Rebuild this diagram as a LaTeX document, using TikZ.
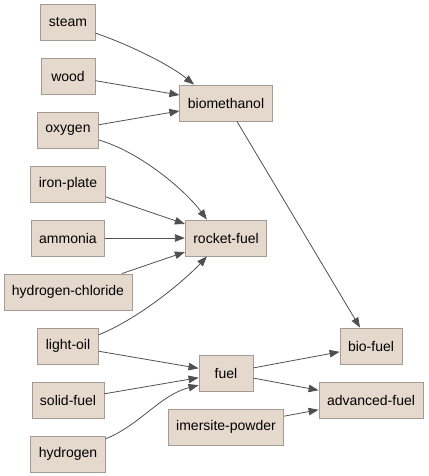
\documentclass[tikz,border=0pt]{standalone}
\usepackage{fontspec}
\setmainfont{Liberation Sans}
\usetikzlibrary{arrows.meta}
\definecolor{boxfill}{RGB}{229,217,205}
\definecolor{boxline}{RGB}{165,155,148}
\definecolor{edgeline}{RGB}{80,80,80}
\begin{document}
\begin{tikzpicture}[
    x=1pt, y=-1pt,
    font=\fontsize{14}{16}\selectfont,
    item/.style={draw=boxline, fill=boxfill, line width=0.9pt, minimum height=36pt, minimum width=54pt, inner xsep=8pt},
    flow/.style={-{Triangle[length=10pt,width=7.5pt]}, draw=edgeline, line width=0.8pt}
]
\useasboundingbox (0,0) rectangle (428,476);

% Inputs
\node[item] (steam)    at (68,22)  {steam};
\node[item] (wood)     at (68,76)  {wood};
\node[item] (oxygen)   at (68,130) {oxygen};
\node[item] (iron)     at (68,184) {iron-plate};
\node[item] (ammonia)  at (68,238) {ammonia};
\node[item] (hcl)      at (68,292) {hydrogen-chloride};
\node[item] (lightoil) at (68,346) {light-oil};
\node[item] (solid)    at (68,400) {solid-fuel};
\node[item] (hydrogen) at (68,454) {hydrogen};

% Intermediates
\node[item] (biometh)  at (226,103) {biomethanol};
\node[item] (rocket)   at (226,238) {rocket-fuel};
\node[item] (fuel)     at (226,373) {fuel};
\node[item] (imersite) at (226,427) {imersite-powder};

% Products
\node[item] (biofuel)  at (371,346) {bio-fuel};
\node[item] (advanced) at (371,400) {advanced-fuel};

% Biomethanol
\draw[flow] (steam.-22) .. controls (130,45) and (170,65) .. (biometh.150);
\draw[flow] (wood) -- (biometh);
\draw[flow] (oxygen) -- (biometh);

% Rocket fuel
\draw[flow] (oxygen.-18) .. controls (140,152) and (185,190) .. (rocket.136);
\draw[flow] (iron) -- (rocket);
\draw[flow] (ammonia) -- (rocket);
\draw[flow] (hcl) -- (rocket);
\draw[flow] (lightoil.20) .. controls (140,318) and (185,280) .. (rocket.-136);

% Fuel
\draw[flow] (lightoil) -- (fuel);
\draw[flow] (solid) -- (fuel);
\draw[flow] (hydrogen.22) .. controls (140,425) and (160,395) .. (fuel.204);

% Products
\draw[flow] (biometh) -- (biofuel);
\draw[flow] (fuel) -- (biofuel);
\draw[flow] (fuel) -- (advanced);
\draw[flow] (imersite) -- (advanced);

\end{tikzpicture}
\end{document}
